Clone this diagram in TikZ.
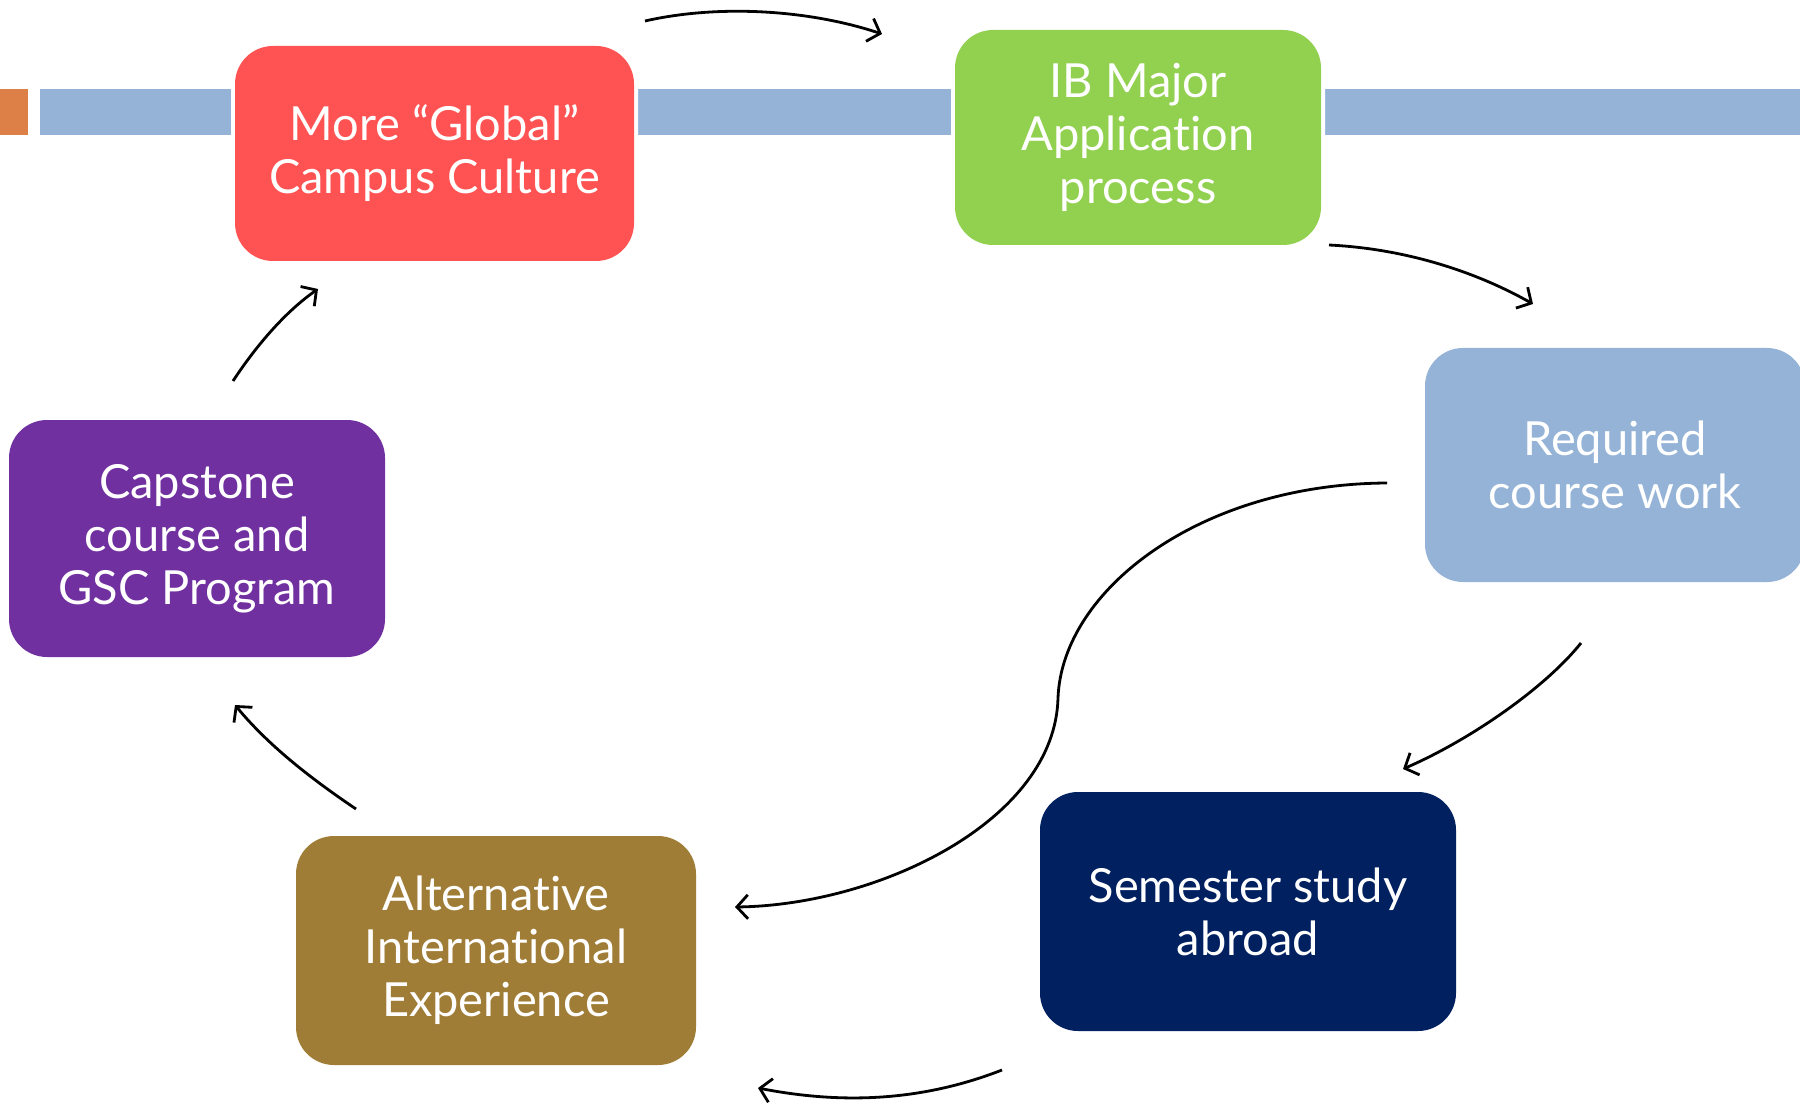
\documentclass[tikz,border=0pt]{standalone}
\usepackage{fontspec}
\setmainfont{Lato}[Ligatures={NoCommon}]
\usetikzlibrary{arrows.meta}
\definecolor{barblue}{HTML}{95B3D7}
\definecolor{barorange}{HTML}{DD8047}
\definecolor{boxred}{HTML}{FF5252}
\definecolor{boxgreen}{HTML}{92D050}
\definecolor{boxnavy}{HTML}{002060}
\definecolor{boxbrown}{HTML}{A07D37}
\definecolor{boxpurple}{HTML}{7030A0}
\tikzset{
  stagebox/.style={rounded corners=19pt, inner sep=0pt, align=center,
    text=white, font=\fontsize{23.5}{26.5}\selectfont,
    preaction={draw=white, line width=4pt}},
  flowarrow/.style={line width=1.4pt, -{Straight Barb[length=5.5pt,width=12pt,line width=1.4pt]}}
}
\begin{document}
\begin{tikzpicture}[x=0.5pt,y=-0.5pt]
\useasboundingbox (0,0) rectangle (1800,1107);
\clip (0,0) rectangle (1800,1107);
\fill[white] (0,0) rectangle (1800,1107);
% banner bar
\fill[barorange] (0,89.5) rectangle (27.5,135.5);
\fill[barblue] (40,89.5) rectangle (1800,135.5);
% boxes
\node[stagebox, fill=boxred, minimum width=199.5pt, minimum height=107.5pt] (red) at (434.5,153.5) {More “Global”\\Campus Culture};
\node[stagebox, fill=boxgreen, minimum width=183pt, minimum height=107.5pt] (green) at (1138,137.5) {IB Major\\Application\\process};
\node[stagebox, fill=barblue, minimum width=190pt, minimum height=117pt] (req) at (1615,465) {Required\\course work};
\node[stagebox, fill=boxnavy, minimum width=208pt, minimum height=119.5pt] (sem) at (1248,911.5) {Semester study\\abroad};
\node[stagebox, fill=boxbrown, minimum width=200pt, minimum height=114.5pt] (alt) at (496,950.5) {Alternative\\International\\Experience};
\node[stagebox, fill=boxpurple, minimum width=188pt, minimum height=118.5pt] (cap) at (197,538.5) {Capstone\\course and\\GSC Program};
% arrow end points
\coordinate (a1s) at (645,21);   \coordinate (a1e) at (882,34);
\coordinate (a2s) at (1329,245); \coordinate (a2e) at (1533,304);
\coordinate (a3s) at (1581,643); \coordinate (a3e) at (1403,769);
\coordinate (a4s) at (1387,483); \coordinate (a4m) at (1058,698); \coordinate (a4e) at (735,907);
\coordinate (a5s) at (1002,1070); \coordinate (a5e) at (758,1088);
\coordinate (a6s) at (356,809);  \coordinate (a6e) at (235,705);
\coordinate (a7s) at (233,381);  \coordinate (a7e) at (318,289);
% arrows
\draw[flowarrow] (a1s) .. controls (720,4) and (810,10) .. (a1e);
\draw[flowarrow] (a2s) .. controls (1410,249) and (1480,274) .. (a2e);
\draw[flowarrow] (a3s) .. controls (1545,688) and (1470,740) .. (a3e);
\draw[flowarrow] (a4s) .. controls (1200,484) and (1062,590) .. (a4m)
                 .. controls (1055,820) and (880,905) .. (a4e);
\draw[flowarrow] (a5s) .. controls (920,1102) and (840,1104) .. (a5e);
\draw[flowarrow] (a6s) .. controls (310,778) and (268,745) .. (a6e);
\draw[flowarrow] (a7s) .. controls (256,346) and (285,312) .. (a7e);
\end{tikzpicture}
\end{document}
